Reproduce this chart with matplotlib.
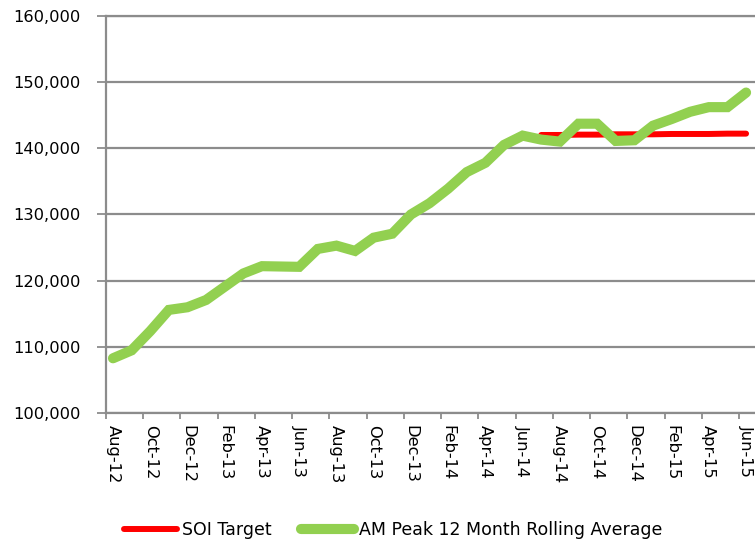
import numpy as np
import matplotlib.pyplot as plt
from matplotlib.ticker import FuncFormatter, FixedLocator

# 月次ラベル (Aug-12 .. Jun-15)
months = ['Aug-12', 'Sep-12', 'Oct-12', 'Nov-12', 'Dec-12', 'Jan-13', 'Feb-13', 'Mar-13',
          'Apr-13', 'May-13', 'Jun-13', 'Jul-13', 'Aug-13', 'Sep-13', 'Oct-13', 'Nov-13',
          'Dec-13', 'Jan-14', 'Feb-14', 'Mar-14', 'Apr-14', 'May-14', 'Jun-14', 'Jul-14',
          'Aug-14', 'Sep-14', 'Oct-14', 'Nov-14', 'Dec-14', 'Jan-15', 'Feb-15', 'Mar-15',
          'Apr-15', 'May-15', 'Jun-15']

# AM Peak 12 Month Rolling Average
am_peak = [108300, 109500, 112400, 115600, 116000, 117100, 119100, 121100,
           122200, 122150, 122100, 124800, 125300, 124500, 126500, 127100,
           130000, 131700, 133900, 136400, 137800, 140500, 141900, 141300,
           141000, 143700, 143700, 141100, 141200, 143400, 144400, 145500,
           146200, 146200, 148400]

# SOI Target (Jul-14 から)
soi_start = 'Jul-14'
soi_target = [142000, 142000, 142050, 142050, 142100, 142100, 142100, 142150,
              142150, 142150, 142200, 142200]

plt.rcParams['font.family'] = ['DejaVu Sans']
fs = 11.7
grid_col = '#8c8c8c'

fig = plt.figure(figsize=(7.55, 5.45), dpi=100)
ax = fig.add_axes([0.1404, 0.2417, 0.8596, 0.7295])

x = np.arange(len(months))
i0 = months.index(soi_start)
x_soi = np.arange(i0, i0 + len(soi_target))

ax.plot(x_soi, soi_target, color='#ff0000', linewidth=4.3, solid_capstyle='round',
        label='SOI Target', zorder=3)
ax.plot(x, am_peak, color='#92d050', linewidth=7.3, solid_capstyle='round',
        solid_joinstyle='miter', label='AM Peak 12 Month Rolling Average', zorder=4)

ax.set_ylim(100000, 160000)
ax.set_xlim(-0.376, 34.48)
ax.set_yticks(np.arange(100000, 160001, 10000))
ax.yaxis.set_major_formatter(FuncFormatter(lambda v, p: f'{int(v):,}'))
ax.grid(axis='y', color=grid_col, linewidth=1.6)
ax.set_axisbelow(True)

# ラベルは2か月ごと、目盛り線はカテゴリの間
ax.set_xticks(x[::2])
ax.set_xticklabels(months[::2], rotation=-90, fontsize=fs, va='top', ha='center')
ax.xaxis.set_minor_locator(FixedLocator(np.arange(-0.376, 34.5, 2)))
ax.tick_params(axis='x', which='major', length=0, pad=8.5)
ax.tick_params(axis='x', which='minor', length=4.5, width=1.3, color=grid_col)
ax.tick_params(axis='y', length=6.5, width=1.3, color=grid_col, labelsize=fs, pad=12)

for s in ['right']:
    ax.spines[s].set_visible(False)
for s in ['left', 'bottom', 'top']:
    ax.spines[s].set_color(grid_col)
    ax.spines[s].set_linewidth(1.6)

fig.legend(loc='center', bbox_to_anchor=(0.521, 0.0275), ncol=2, frameon=False,
           fontsize=12.5, handlelength=3.05, handletextpad=0.3, columnspacing=1.7)

fig.savefig('out.png', dpi=100)
